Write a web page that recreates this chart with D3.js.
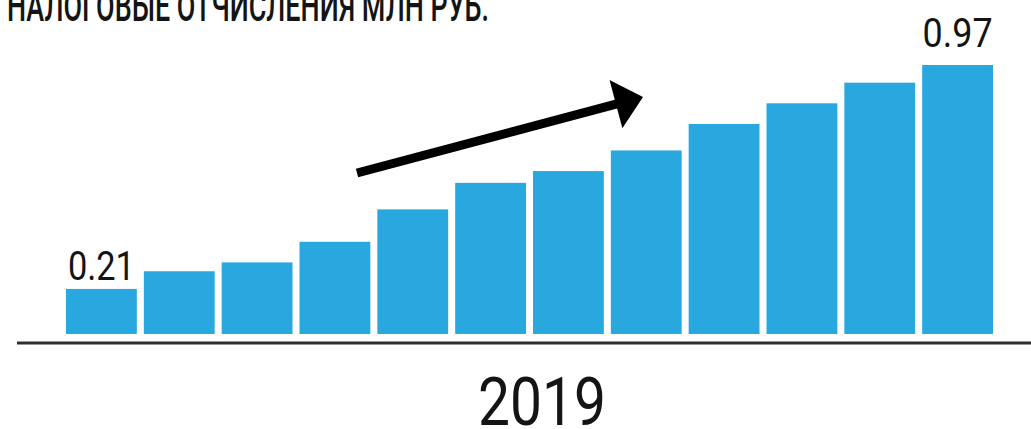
<!DOCTYPE html>
<html>
<head>
<meta charset="utf-8">
<script src="https://cdn.jsdelivr.net/npm/d3@7"></script>
<style>
  html, body { margin: 0; padding: 0; background: #fff; }
  svg { display: block; }
  text { font-family: Roboto, "Liberation Sans", sans-serif; fill: #141414; }
</style>
</head>
<body>
<svg id="chart" width="1031" height="429"></svg>
<script>
const titleText = "НАЛОГОВЫЕ ОТЧИСЛЕНИЯ МЛН РУБ.";
const yearLabel = "2019";
const months = ["Янв", "Фев", "Мар", "Апр", "Май", "Июн", "Июл", "Авг", "Сен", "Окт", "Ноя", "Дек"];
const values = [0.21, 0.27, 0.30, 0.37, 0.48, 0.57, 0.61, 0.68, 0.77, 0.84, 0.91, 0.97];
const labelledMonths = ["Янв", "Дек"];

const W = 1031, H = 429;
const svg = d3.select("#chart");

const x = d3.scaleBand().domain(months).range([66, 993]).paddingInner(0.09).paddingOuter(0);
const y = d3.scaleLinear().domain([0.057, 0.97]).range([334, 65]);

// bars
svg.append("g").selectAll("rect")
  .data(months.map((m, i) => ({ m, v: values[i] })))
  .join("rect")
  .attr("x", d => x(d.m))
  .attr("y", d => y(d.v))
  .attr("width", x.bandwidth())
  .attr("height", d => y.range()[0] - y(d.v))
  .attr("fill", "#29a8e0");

// baseline axis
const axisG = svg.append("g").attr("transform", "translate(0,343)");
axisG.append("line")
  .attr("x1", 17).attr("x2", W)
  .attr("stroke", "#2e2e2e").attr("stroke-width", 3);

// value labels
const labelData = labelledMonths.map(m => ({ m, v: values[months.indexOf(m)] }));
const labelOffsets = { "Янв": 8.5, "Дек": 18 };
const labelWidths = { "Янв": 67, "Дек": 70 };
svg.append("g").selectAll("text")
  .data(labelData)
  .join("text")
  .attr("x", d => x(d.m) + x.bandwidth() / 2)
  .attr("y", d => y(d.v) - labelOffsets[d.m])
  .attr("text-anchor", "middle")
  .attr("font-size", 40)
  .attr("textLength", d => labelWidths[d.m])
  .attr("lengthAdjust", "spacingAndGlyphs")
  .text(d => d.v.toFixed(2));

// title (cropped at top, as in the original)
svg.append("text")
  .attr("x", 7).attr("y", 21)
  .attr("font-size", 43)
  .attr("font-weight", 500)
  .attr("textLength", 482)
  .attr("lengthAdjust", "spacingAndGlyphs")
  .text(titleText);

// year label
svg.append("text")
  .attr("x", 542).attr("y", 425)
  .attr("text-anchor", "middle")
  .attr("font-size", 67)
  .attr("textLength", 128)
  .attr("lengthAdjust", "spacingAndGlyphs")
  .text(yearLabel);

// trend arrow
const start = [357, 173], tip = [643, 97];
const dx = tip[0] - start[0], dy = tip[1] - start[1];
const len = Math.hypot(dx, dy);
const ux = dx / len, uy = dy / len, nx = -uy, ny = ux;
const headL = 28, headW = 50;
const base = [tip[0] - headL * ux, tip[1] - headL * uy];
svg.append("line")
  .attr("x1", start[0]).attr("y1", start[1])
  .attr("x2", base[0] + 2 * ux).attr("y2", base[1] + 2 * uy)
  .attr("stroke", "#000").attr("stroke-width", 9);
svg.append("path")
  .attr("d", d3.line()([
    tip,
    [base[0] + nx * headW / 2, base[1] + ny * headW / 2],
    [base[0] - nx * headW / 2, base[1] - ny * headW / 2]
  ]) + "Z")
  .attr("fill", "#000");
</script>
</body>
</html>
